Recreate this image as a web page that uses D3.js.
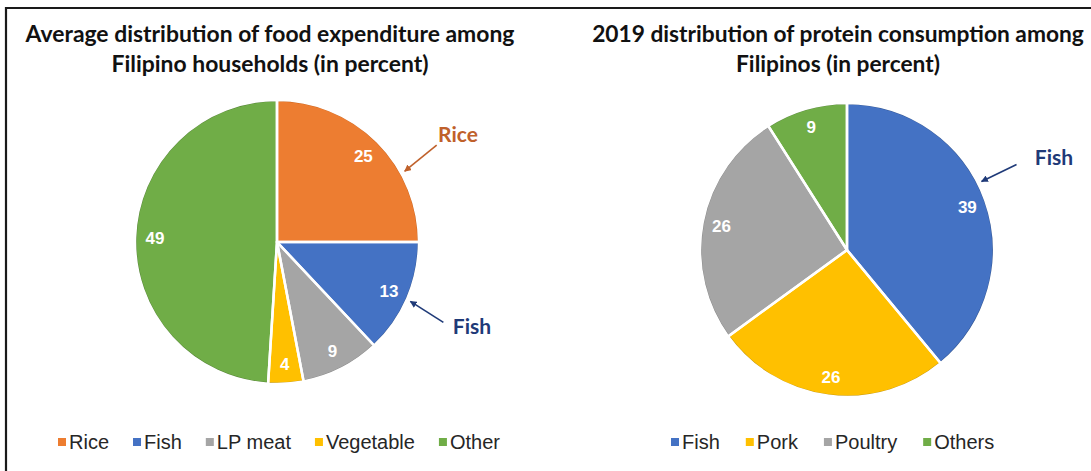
<!DOCTYPE html>
<html><head><meta charset="utf-8">
<script src="https://cdn.jsdelivr.net/npm/d3@7"></script>
<style>
html,body{margin:0;padding:0;background:#fff;}
svg{display:block;}
</style></head>
<body>
<svg id="chart" width="1091" height="471"></svg>
<script>
// ---- data ----
const leftTitle = ["Average distribution of food expenditure among", "Filipino households (in percent)"];
const leftCategories = ["Rice", "Fish", "LP meat", "Vegetable", "Other"];
const leftValues = [25, 13, 9, 4, 49];
const leftColors = ["#ED7D31", "#4472C4", "#A5A5A5", "#FFC000", "#70AD47"];
const leftEdge = ["#C55A11", "#2F528F", "#7F7F7F", "#BF9000", "#507E32"];

const rightTitle = ["2019 distribution of protein consumption among", "Filipinos (in percent)"];
const rightCategories = ["Fish", "Pork", "Poultry", "Others"];
const rightValues = [39, 26, 26, 9];
const rightColors = ["#4472C4", "#FFC000", "#A5A5A5", "#70AD47"];
const rightEdge = ["#2F528F", "#BF9000", "#7F7F7F", "#507E32"];

// annotations: [label, category index, colour]
const leftNotes = [["Rice", 0, "#C0612B"], ["Fish", 1, "#1F3A78"]];
const rightNotes = [["Fish", 0, "#1F3A78"]];

const svg = d3.select("#chart");

// frame
svg.append("line").attr("x1", 6).attr("y1", 8).attr("x2", 1091).attr("y2", 8)
  .attr("stroke", "#1a1a1a").attr("stroke-width", 2.2);
svg.append("line").attr("x1", 6).attr("y1", 7).attr("x2", 6).attr("y2", 471)
  .attr("stroke", "#1a1a1a").attr("stroke-width", 2.2);

function drawPanel(cfg) {
  const g = svg.append("g");
  // titles: font size chosen so the first line fills its target width
  const probe = g.append("text").attr("font-family", "Lato, 'Open Sans', sans-serif")
    .attr("font-weight", "bold").attr("font-size", 20).text(cfg.title[0]);
  const fs = 20 * cfg.titleW / probe.node().getComputedTextLength();
  probe.remove();
  cfg.title.forEach((t, i) => {
    g.append("text")
      .attr("x", cfg.titleX).attr("y", cfg.titleY[i])
      .attr("text-anchor", "middle")
      .attr("font-family", "Lato, 'Open Sans', sans-serif")
      .attr("font-weight", "bold").attr("font-size", fs)
      .attr("fill", "#111").text(t);
  });

  const pie = d3.pie().sort(null).value(d => d)(cfg.values);
  const r = cfg.r;
  const arc = d3.arc().innerRadius(0).outerRadius(r);
  const edgeArc = d3.arc().innerRadius(r - 1.6).outerRadius(r);
  const labelArc = d3.arc().innerRadius(r * cfg.labelR).outerRadius(r * cfg.labelR);

  const pg = g.append("g").attr("transform", `translate(${cfg.cx},${cfg.cy})`);
  pg.selectAll("path.slice").data(pie).join("path").attr("class", "slice")
    .attr("d", arc).attr("fill", (d, i) => cfg.colors[i]);
  pg.selectAll("path.edge").data(pie).join("path").attr("class", "edge")
    .attr("d", edgeArc).attr("fill", (d, i) => cfg.edge[i]);
  pg.selectAll("path.sep").data(pie).join("path").attr("class", "sep")
    .attr("d", arc).attr("fill", "none").attr("stroke", "#fff").attr("stroke-width", 2.5)
    .attr("stroke-linejoin", "round");
  pg.selectAll("text.val").data(pie).join("text").attr("class", "val")
    .attr("transform", d => `translate(${labelArc.centroid(d)})`)
    .attr("text-anchor", "middle").attr("dy", "0.36em")
    .attr("font-family", "'Liberation Sans', Arial, sans-serif")
    .attr("font-weight", "bold").attr("font-size", 17)
    .attr("fill", "#fff")
    .text(d => d.data);

  // annotations with arrows
  cfg.notes.forEach((n, k) => {
    const spec = cfg.noteGeom[k];
    const ang = spec.ang * Math.PI / 180;
    const tipR = r + 4;
    const tip = [cfg.cx + tipR * Math.sin(ang), cfg.cy - tipR * Math.cos(ang)];
    const tail = [tip[0] + spec.dx, tip[1] + spec.dy];
    const id = "ah" + cfg.id + k;
    svg.append("defs").append("marker").attr("id", id)
      .attr("viewBox", "0 0 10 10").attr("refX", 9).attr("refY", 5)
      .attr("markerWidth", 7).attr("markerHeight", 7).attr("orient", "auto")
      .attr("markerUnits", "userSpaceOnUse")
      .append("path").attr("d", "M0,0 L10,5 L0,10 Z").attr("fill", n[2]);
    g.append("line").attr("x1", tail[0]).attr("y1", tail[1])
      .attr("x2", tip[0]).attr("y2", tip[1])
      .attr("stroke", n[2]).attr("stroke-width", 1.6).attr("marker-end", `url(#${id})`);
    g.append("text").attr("x", spec.tx).attr("y", spec.ty)
      .attr("text-anchor", "middle")
      .attr("font-family", "Lato, 'Open Sans', sans-serif")
      .attr("font-weight", "bold").attr("font-size", 21)
      .attr("fill", n[2]).text(n[0]);
  });

  // legend
  const lg = g.append("g");
  let x = cfg.legendX;
  cfg.categories.forEach((c, i) => {
    lg.append("rect").attr("x", x).attr("y", cfg.legendY - 11).attr("width", 8).attr("height", 8)
      .attr("fill", cfg.colors[i]);
    const t = lg.append("text").attr("x", x + 11).attr("y", cfg.legendY)
      .attr("font-family", "'Liberation Sans', Arial, sans-serif")
      .attr("font-size", 20).attr("fill", "#262626").text(c);
    const w = t.node().getComputedTextLength();
    x += 11 + w + cfg.legendGap;
  });
}

drawPanel({
  id: "L", title: leftTitle, titleX: 270, titleY: [42, 72], titleW: 489,
  categories: leftCategories, values: leftValues, colors: leftColors, edge: leftEdge,
  cx: 277, cy: 242, r: 142, labelR: 0.86,
  notes: leftNotes,
  noteGeom: [{ang: 61, dx: 32, dy: -26, tx: 458, ty: 142}, {ang: 114, dx: 33, dy: 21, tx: 472, ty: 334}],
  legendX: 58, legendY: 449, legendGap: 24
});

drawPanel({
  id: "R", title: rightTitle, titleX: 838, titleY: [42, 72], titleW: 492,
  categories: rightCategories, values: rightValues, colors: rightColors, edge: rightEdge,
  cx: 847, cy: 250, r: 147, labelR: 0.87,
  notes: rightNotes,
  noteGeom: [{ang: 63, dx: 35, dy: -17, tx: 1054, ty: 165}],
  legendX: 671, legendY: 449, legendGap: 26
});
</script>
</body></html>
